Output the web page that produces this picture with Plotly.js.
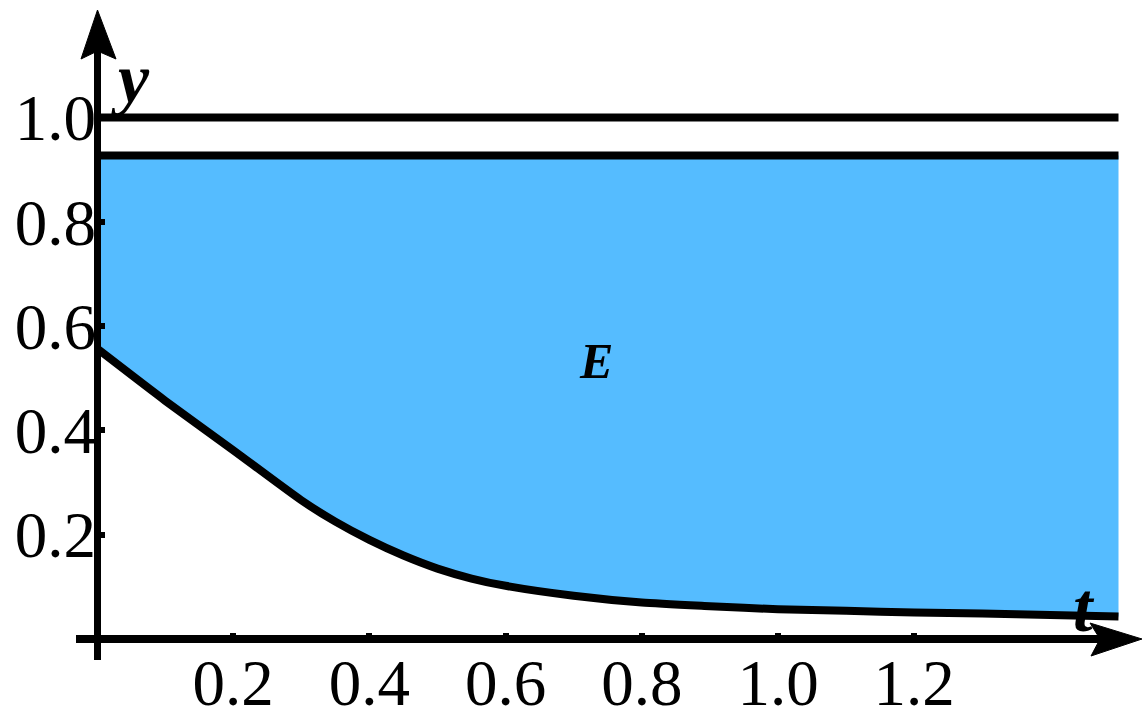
<!DOCTYPE html>
<html>
<head>
<meta charset="utf-8">
<script src="https://cdn.plot.ly/plotly-3.0.1.min.js"></script>
<style>html,body{margin:0;padding:0;background:#fff}#chart{width:1148px;height:722px}</style>
</head>
<body>
<div id="chart"></div>
<script>
// ---- data ----
const tValues    = [0, 0.1, 0.2, 0.3, 0.35, 0.4, 0.45, 0.5, 0.55, 0.6, 0.7, 0.8, 0.9, 1.0, 1.1, 1.2, 1.3, 1.4, 1.5];
const lowerBound = [0.557, 0.457, 0.362, 0.266, 0.225, 0.190, 0.160, 0.135, 0.116, 0.102, 0.083, 0.070, 0.063, 0.057, 0.054, 0.051, 0.049, 0.046, 0.043];
const upperLevel = 0.927;
const topLevel   = 1.0;
const xTickVals  = [0.2, 0.4, 0.6, 0.8, 1.0, 1.2];
const xTickText  = ['0.2', '0.4', '0.6', '0.8', '1.0', '1.2'];
const yTickVals  = [0.2, 0.4, 0.6, 0.8, 1.0];
const yTickText  = ['0.2', '0.4', '0.6', '0.8', '1.0'];

// ---- layout geometry ----
const W = 1148, H = 722;
const M = {l: 97, r: 0, t: 0, b: 83};
const pw = W - M.l - M.r, ph = H - M.t - M.b;
const xPerUnit = 681, yPerUnit = 521.5;
const px = v => (v - M.l) / pw;          // pixel x -> paper x
const py = v => (H - M.b - v) / ph;      // pixel y -> paper y

const tMin = tValues[0], tMax = tValues[tValues.length - 1];

// base for the fill: the upper boundary (no visible line)
const fillBase = {
  x: [tMin, tMax], y: [upperLevel, upperLevel], mode: 'lines',
  line: {width: 0, color: 'rgba(0,0,0,0)'}, hoverinfo: 'skip', showlegend: false
};
// lower boundary curve, filling up to the upper boundary
const curveTrace = {
  x: tValues, y: lowerBound, mode: 'lines',
  fill: 'tonexty', fillcolor: '#55BCFF',
  line: {color: '#000', width: 8, shape: 'spline', smoothing: 0.6},
  showlegend: false
};
const upperTrace = {
  x: [tMin, tMax], y: [upperLevel, upperLevel], mode: 'lines',
  line: {color: '#000', width: 8}, showlegend: false
};
const topTrace = {
  x: [tMin, tMax], y: [topLevel, topLevel], mode: 'lines',
  line: {color: '#000', width: 8}, showlegend: false
};

const tickFont = {family: 'Liberation Serif, Times New Roman, serif', size: 65, color: '#000'};
const labelFont = s => ({family: 'Liberation Serif, Times New Roman, serif', size: s, color: '#000', style: 'italic', weight: 'bold'});

const layout = {
  width: W, height: H,
  margin: {l: M.l, r: M.r, t: M.t, b: M.b, pad: 0},
  paper_bgcolor: '#fff', plot_bgcolor: 'rgba(0,0,0,0)',
  xaxis: {
    range: [0, pw / xPerUnit], showgrid: false, zeroline: false, showline: false,
    tickmode: 'array', tickvals: xTickVals, ticktext: xTickText,
    ticks: 'inside', ticklen: 6, tickwidth: 6, tickcolor: '#000',
    tickfont: tickFont, automargin: false, fixedrange: true, ticklabelstandoff: 0
  },
  yaxis: {
    range: [0, ph / yPerUnit], showgrid: false, zeroline: false, showline: false,
    tickmode: 'array', tickvals: yTickVals, ticktext: yTickText,
    ticks: 'inside', ticklen: 8, tickwidth: 6, tickcolor: '#000',
    tickfont: tickFont, automargin: false, fixedrange: true, ticklabelstandoff: 0
  },
  shapes: [
    // y axis line and arrow
    {type: 'line', xref: 'paper', yref: 'paper', x0: px(97.5), x1: px(97.5), y0: py(660), y1: py(50),
     line: {color: '#000', width: 7}, layer: 'above'},
    {type: 'path', xref: 'paper', yref: 'paper', layer: 'above',
     path: `M ${px(97.5)} ${py(10)} L ${px(116)} ${py(59)} L ${px(97.5)} ${py(51)} L ${px(81)} ${py(59)} Z`,
     fillcolor: '#000', line: {color: '#000', width: 1}},
    // x axis line and arrow
    {type: 'line', xref: 'paper', yref: 'paper', x0: px(76), x1: px(1100), y0: py(639), y1: py(639),
     line: {color: '#000', width: 8}, layer: 'above'},
    {type: 'path', xref: 'paper', yref: 'paper', layer: 'above',
     path: `M ${px(1142)} ${py(639)} L ${px(1091)} ${py(656)} L ${px(1100)} ${py(639)} L ${px(1090)} ${py(623)} Z`,
     fillcolor: '#000', line: {color: '#000', width: 1}}
  ],
  annotations: [
    {text: 'y', xref: 'x', yref: 'y', x: 0.049, y: 1.075, showarrow: false, font: labelFont(70)},
    {text: 't', xref: 'x', yref: 'y', x: 1.449, y: 0.06, showarrow: false, font: labelFont(70)},
    {text: 'E', xref: 'x', yref: 'y', x: 0.733, y: 0.534, showarrow: false, font: labelFont(50)}
  ]
};

Plotly.newPlot('chart', [fillBase, curveTrace, upperTrace, topTrace], layout, {displayModeBar: false, staticPlot: true});
</script>
</body>
</html>
